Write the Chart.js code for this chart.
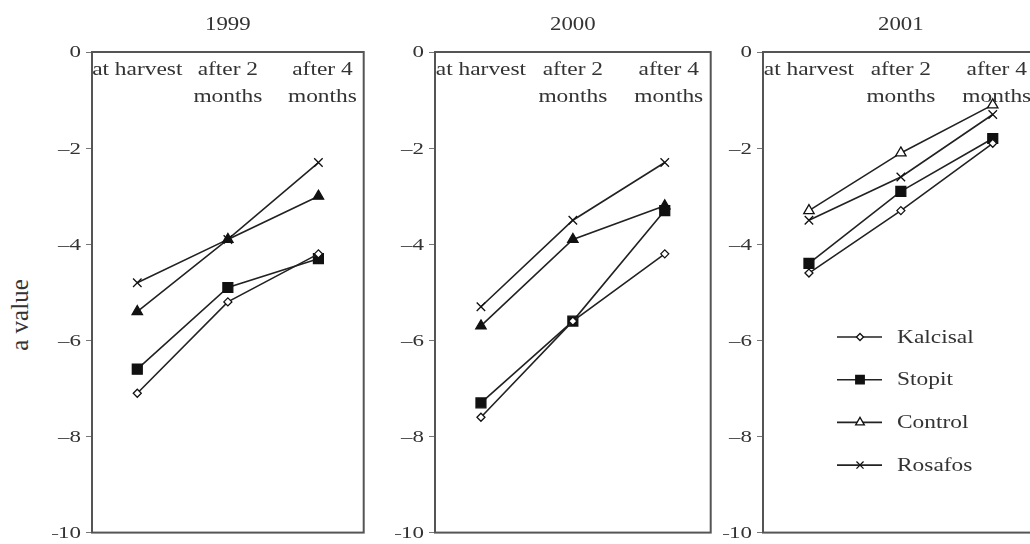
<!DOCTYPE html>
<html lang="en">
<head>
<meta charset="UTF-8">
<title>a value during storage, 1999-2001</title>
<script src="https://cdn.jsdelivr.net/npm/chart.js"></script>
<style>
  html, body { margin: 0; padding: 0; background: #fff; overflow: hidden; }
  body { width: 1030px; height: 544px; position: relative; }
  canvas { position: absolute; top: 0; }
  #yTitle {
    position: absolute; left: 20px; top: 315px;
    transform: translate(-50%, -50%) rotate(-90deg);
    font: 25px "Liberation Serif", serif; color: #333; white-space: nowrap;
  }
</style>
</head>
<body>
<div id="yTitle">a value</div>
<canvas id="c1999" width="320" height="544" style="left:52px"></canvas>
<canvas id="c2000" width="324" height="544" style="left:395px"></canvas>
<canvas id="c2001" width="324" height="544" style="left:723px"></canvas>

<script>
// categories (each label split into lines) and tick values
const categories = [['at harvest'], ['after 2', 'months'], ['after 4', 'months']];
const yTicks = [0, -2, -4, -6, -8, -10];
const seriesNames = ['Kalcisal', 'Stopit', 'Control', 'Rosafos'];

// values
const kalcisal1999 = [-7.1, -5.2, -4.2];
const stopit1999   = [-6.6, -4.9, -4.3];
const control1999  = [-5.4, -3.9, -3.0];
const rosafos1999  = [-4.8, -3.9, -2.3];

const kalcisal2000 = [-7.6, -5.6, -4.2];
const stopit2000   = [-7.3, -5.6, -3.3];
const control2000  = [-5.7, -3.9, -3.2];
const rosafos2000  = [-5.3, -3.5, -2.3];

const kalcisal2001 = [-4.6, -3.3, -1.9];
const stopit2001   = [-4.4, -2.9, -1.8];
const control2001  = [-3.3, -2.1, -1.1];
const rosafos2001  = [-3.5, -2.6, -1.3];

const SERIF = '"Liberation Serif", "Times New Roman", serif';
const INK = '#333';

// marker look per series
function markerStyle(name, openTriangle) {
  switch (name) {
    case 'Kalcisal': return { pointStyle: 'rectRot', pointRadius: 4, pointBackgroundColor: '#fff' };
    case 'Stopit':   return { pointStyle: 'rect', pointRadius: 7, pointBackgroundColor: '#111' };
    case 'Control':  return { pointStyle: 'triangle', pointRadius: 6, pointBackgroundColor: openTriangle ? '#fff' : '#111' };
    default:         return { pointStyle: 'crossRot', pointRadius: 6, pointBackgroundColor: '#111' };
  }
}

// text looks horizontally stretched in the source scan
function stretchText(ctx, text, x, y, align, baseline, font, sx) {
  ctx.save();
  ctx.translate(x, y);
  ctx.scale(sx, 1);
  ctx.font = font;
  ctx.fillStyle = INK;
  ctx.textAlign = align;
  ctx.textBaseline = baseline;
  ctx.fillText(text, 0, 0);
  ctx.restore();
}

const panelDecor = {
  id: 'panelDecor',
  afterDatasetsDraw(chart, args, opts) {
    const ctx = chart.ctx;
    const area = chart.chartArea;
    const x = chart.scales.x, y = chart.scales.y;

    // frame
    ctx.save();
    ctx.strokeStyle = '#555';
    ctx.lineWidth = 2;
    ctx.strokeRect(area.left, area.top, area.right - area.left, area.bottom - area.top);
    ctx.restore();

    // title
    stretchText(ctx, opts.title, (area.left + area.right) / 2, 25, 'center', 'middle', '19px ' + SERIF, 1.2);

    // y tick labels
    y.ticks.forEach(t => {
      const label = t.value === 0 ? '0' : '\u2013' + Math.abs(t.value);
      stretchText(ctx, label, area.left - 11, y.getPixelForValue(t.value) + 1, 'right', 'middle', '17px ' + SERIF, 1.35);
    });

    // category labels inside the top of the plot
    categories.forEach((lines, i) => {
      const cx = x.getPixelForValue(i);
      lines.forEach((line, j) => {
        stretchText(ctx, line, cx + (i === 2 ? 4 : 0), 75 + j * 27, 'center', 'alphabetic', '18px ' + SERIF, 1.3);
      });
    });

    // legend inside the last panel
    if (opts.legend) {
      const drawPoint = Chart.helpers && Chart.helpers.drawPoint;
      chart.data.datasets.forEach((ds, i) => {
        const ly = area.top + 285 + i * 42.7;
        const lx = area.left + 74;
        ctx.save();
        ctx.strokeStyle = '#222';
        ctx.lineWidth = 1.6;
        ctx.beginPath();
        ctx.moveTo(lx, ly);
        ctx.lineTo(lx + 45, ly);
        ctx.stroke();
        if (drawPoint) {
          ctx.fillStyle = ds.label === 'Control' ? '#fff' : ds.pointBackgroundColor;
          ctx.strokeStyle = '#111';
          ctx.lineWidth = 1.3;
          const r = { Kalcisal: 3.5, Stopit: 6, Control: 5, Rosafos: 5 }[ds.label];
          drawPoint(ctx, { pointStyle: ds.pointStyle, radius: r, rotation: 0, borderWidth: 1.3 }, lx + 23, ly);
        }
        ctx.restore();
        stretchText(ctx, ds.label, lx + 60, ly + 1, 'left', 'middle', '18px ' + SERIF, 1.3);
      });
    }
  }
};

function makePanel(id, year, values, openTriangle, legend) {
  const datasets = seriesNames.map((name, i) => Object.assign({
    label: name,
    data: values[i],
    borderColor: '#222',
    borderWidth: 1.6,
    pointBorderColor: '#111',
    pointBorderWidth: 1.3,
    tension: 0
  }, markerStyle(name, openTriangle)));

  new Chart(document.getElementById(id), {
    type: 'line',
    data: { labels: categories.map(c => c.join(' ')), datasets },
    options: {
      responsive: false,
      animation: false,
      layout: { padding: { top: 52, bottom: 9, left: 0, right: 2 } },
      plugins: {
        legend: { display: false },
        tooltip: { enabled: false },
        panelDecor: { title: year, legend }
      },
      scales: {
        x: { display: false, offset: true },
        y: {
          min: -10, max: 0,
          afterBuildTicks: s => { s.ticks = yTicks.map(v => ({ value: v })); },
          afterFit: s => { s.width = 40; },
          ticks: { color: 'rgba(0,0,0,0)', font: { size: 14 } },
          grid: { drawOnChartArea: false, tickLength: 6, color: '#777' },
          border: { color: '#555', width: 2 }
        }
      }
    },
    plugins: [panelDecor]
  });
}

makePanel('c1999', '1999', [kalcisal1999, stopit1999, control1999, rosafos1999], false, false);
makePanel('c2000', '2000', [kalcisal2000, stopit2000, control2000, rosafos2000], false, false);
makePanel('c2001', '2001', [kalcisal2001, stopit2001, control2001, rosafos2001], true, true);
</script>
</body>
</html>
